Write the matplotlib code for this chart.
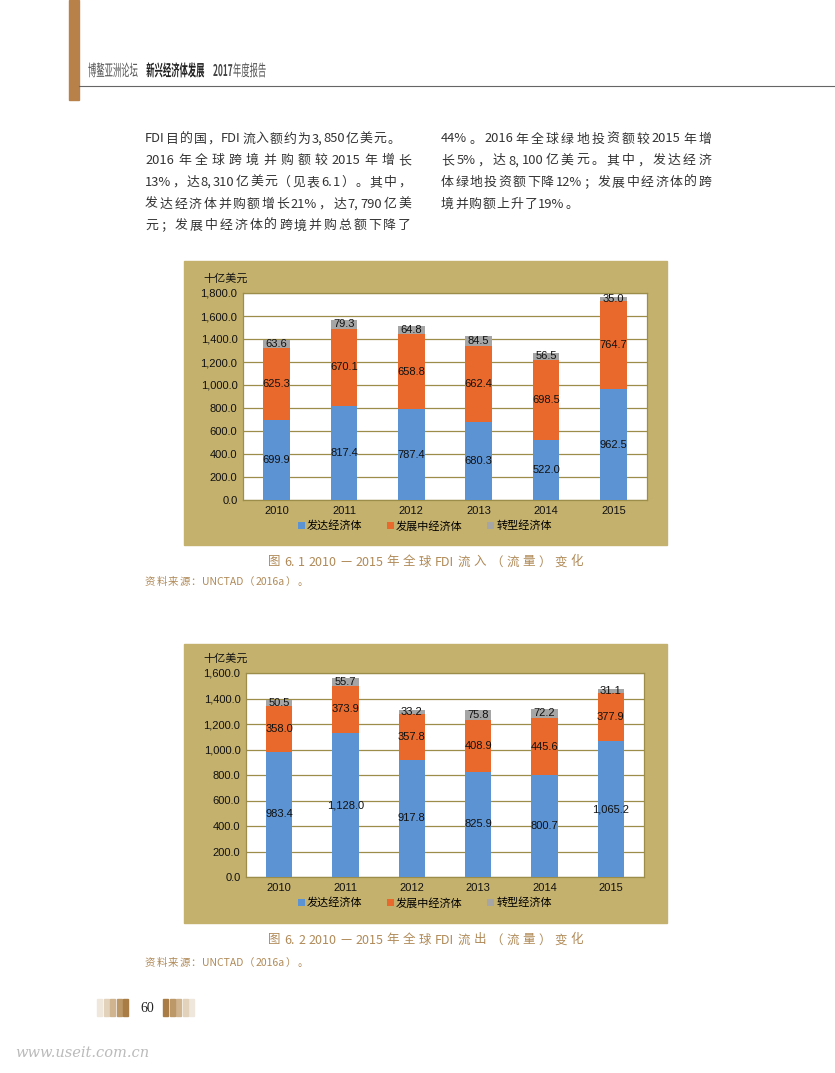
import numpy as np
import matplotlib
matplotlib.use("Agg")
import matplotlib.pyplot as plt
from matplotlib.patches import Rectangle, PathPatch
from matplotlib.textpath import TextPath
from matplotlib.font_manager import FontProperties
from matplotlib.transforms import Affine2D

plt.rcParams['font.family'] = ['Liberation Sans', 'Noto Sans CJK SC', 'DejaVu Sans']

# 数据
years = ['2010', '2011', '2012', '2013', '2014', '2015']
series_names = ['发达经济体', '发展中经济体', '转型经济体']

inflow_developed = [699.9, 817.4, 787.4, 680.3, 522.0, 962.5]
inflow_developing = [625.3, 670.1, 658.8, 662.4, 698.5, 764.7]
inflow_transition = [63.6, 79.3, 64.8, 84.5, 56.5, 35.0]

outflow_developed = [983.4, 1128.0, 917.8, 825.9, 800.7, 1065.2]
outflow_developing = [358.0, 373.9, 357.8, 408.9, 445.6, 377.9]
outflow_transition = [50.5, 55.7, 33.2, 75.8, 72.2, 31.1]

left_lines = ['FDI 目的国，FDI 流入额约为 3, 850 亿美元。',
              '2016 年全球跨境并购额较 2015 年增长',
              '13%，达 8, 310 亿美元（见表 6. 1）。其中，',
              '发达经济体并购额增长 21%，达 7, 790 亿美',
              '元；发展中经济体的跨境并购总额下降了']
right_lines = ['44%。2016 年全球绿地投资额较 2015 年增',
               '长 5%，达 8, 100 亿美元。其中，发达经济',
               '体绿地投资额下降 12%；发展中经济体的跨',
               '境并购额上升了 19%。']

BLUE = '#5B93D3'
ORANGE = '#E8692B'
GRAY = '#A5A5A5'
TAN = '#C4B16E'
OLIVE = '#9C8E4A'
CAPTION = '#B08A58'

W, H = 835, 1073
fig = plt.figure(figsize=(W / 100, H / 100), dpi=100)
page = fig.add_axes([0, 0, 1, 1])
page.set_xlim(0, W)
page.set_ylim(H, 0)
page.axis('off')
renderer = fig.canvas.get_renderer()


def units(s):
    # 把一行拆成单字 / 连续的西文
    out, buf = [], ''
    for ch in s:
        if ord(ch) < 0x2000 and ch != ' ':
            buf += ch
        else:
            if buf:
                out.append(buf)
                buf = ''
            if ch != ' ':
                out.append(ch)
    if buf:
        out.append(buf)
    return out


def justify(x0, x1, y, s, size, color, stretch=True):
    parts = units(s)
    texts = [page.text(0, y, p, fontsize=size, color=color, va='center', ha='left',
                       family=['Noto Sans CJK SC', 'DejaVu Sans']) for p in parts]
    widths = [t.get_window_extent(renderer).width for t in texts]
    if stretch and len(parts) > 1:
        gap = (x1 - x0 - sum(widths)) / (len(parts) - 1)
    else:
        gap = 1.0
    x = x0
    for t, w in zip(texts, widths):
        t.set_x(x)
        x += w + gap


def squeezed(x, y, s, size, sx, color, weight='normal'):
    prop = FontProperties(family='Noto Sans CJK SC', weight=weight)
    tp = TextPath((0, 0), s, size=size, prop=prop)
    tr = Affine2D().scale(sx, -1).translate(x, y)
    page.add_patch(PathPatch(tr.transform_path(tp), fc=color, ec='none'))
    return x + tp.get_extents().width * sx


# 页眉
page.add_patch(Rectangle((69, 0), 10, 100, color='#B8814A'))
page.plot([79, 835], [86, 86], color='#666666', lw=0.8)
x = squeezed(88, 76, '博鳌亚洲论坛', 16, 0.52, '#555555')
x = squeezed(x + 9, 76, '新兴经济体发展', 16, 0.52, '#222222', 'bold')
x = squeezed(x + 9, 76, '2017', 16, 0.52, '#444444', 'bold')
squeezed(x + 1, 76, '年度报告', 16, 0.52, '#555555')

# 正文
for i, line in enumerate(left_lines):
    justify(145, 411, 139 + i * 21.7, line, 9.3, '#333333', stretch=(i > 0))
for i, line in enumerate(right_lines):
    justify(441, 711, 139 + i * 21.7, line, 9.3, '#333333', stretch=(i < 3))


def draw_chart(box, plot, dev, dvl, tra, ymax, cap_y, src_y, caption):
    bx0, by0, bx1, by1 = box
    page.add_patch(Rectangle((bx0, by0), bx1 - bx0, by1 - by0, color=TAN, zorder=0))
    px0, py0, px1, py1 = plot
    ax = fig.add_axes([px0 / W, (H - py1) / H, (px1 - px0) / W, (py1 - py0) / H])
    ax.set_facecolor('white')
    xs = np.arange(len(years))
    dev = np.array(dev)
    dvl = np.array(dvl)
    tra = np.array(tra)
    b1 = ax.bar(xs, dev, 0.4, color=BLUE, label=series_names[0], zorder=3)
    b2 = ax.bar(xs, dvl, 0.4, bottom=dev, color=ORANGE, label=series_names[1], zorder=3)
    b3 = ax.bar(xs, tra, 0.4, bottom=dev + dvl, color=GRAY, label=series_names[2], zorder=3)
    for bars in (b1, b2, b3):
        ax.bar_label(bars, labels=['{:,.1f}'.format(v) for v in bars.datavalues],
                     label_type='center', fontsize=8, color='#111111', zorder=4)
    ax.set_xlim(-0.5, len(years) - 0.5)
    ax.set_ylim(0, ymax)
    ax.set_yticks(np.arange(0, ymax + 1, 200))
    ax.set_yticklabels(['{:,.1f}'.format(v) for v in np.arange(0, ymax + 1, 200)])
    ax.set_xticks(xs)
    ax.set_xticklabels(years)
    ax.tick_params(length=0, labelsize=8, colors='#111111', pad=4)
    ax.grid(axis='y', color=OLIVE, lw=0.9, zorder=1)
    for sp in ax.spines.values():
        sp.set_color(OLIVE)
        sp.set_linewidth(0.9)
    page.text(bx0 + 19, py0 - 14, '十亿美元', fontsize=8, color='#111111', va='center',
              family=['Noto Sans CJK SC'])
    ax.legend(loc='center', bbox_to_anchor=(425 / W, 1 - (py1 + 26) / H),
              bbox_transform=fig.transFigure, ncol=3, frameon=False, fontsize=8,
              handlelength=0.6, handleheight=0.6, handletextpad=0.2, columnspacing=2.2,
              prop={'family': ['Noto Sans CJK SC'], 'size': 8})
    justify(268, 583, cap_y, caption, 9, CAPTION)
    justify(145, 310, src_y, '资料来源：UNCTAD（2016a）。', 7.5, CAPTION, stretch=False)


draw_chart((184, 261, 667, 545), (243, 293, 647, 500),
           inflow_developed, inflow_developing, inflow_transition, 1800, 562, 582,
           '图 6. 1   2010—2015 年全球 FDI 流入（流量）变化')
draw_chart((184, 644, 667, 923), (246, 673, 644, 877),
           outflow_developed, outflow_developing, outflow_transition, 1600, 940, 963,
           '图 6. 2   2010—2015 年全球 FDI 流出（流量）变化')

# 页脚
stripe_colors = ['#EFE7DC', '#E2D2BC', '#CFB48F', '#BC9868', '#A97C45']
for i, c in enumerate(stripe_colors):
    page.add_patch(Rectangle((97 + i * 6.6, 999), 5, 17, color=c))
    page.add_patch(Rectangle((163 + (4 - i) * 6.6, 999), 5, 17, color=c))
page.text(147, 1008, '60', fontsize=10, family='Liberation Serif', color='#222222',
          ha='center', va='center')
page.text(15, 1053, 'www.useit.com.cn', fontsize=10.5, family='DejaVu Serif', style='italic',
          color='#BBBBBB', va='center')

fig.savefig('out.png', dpi=100)
